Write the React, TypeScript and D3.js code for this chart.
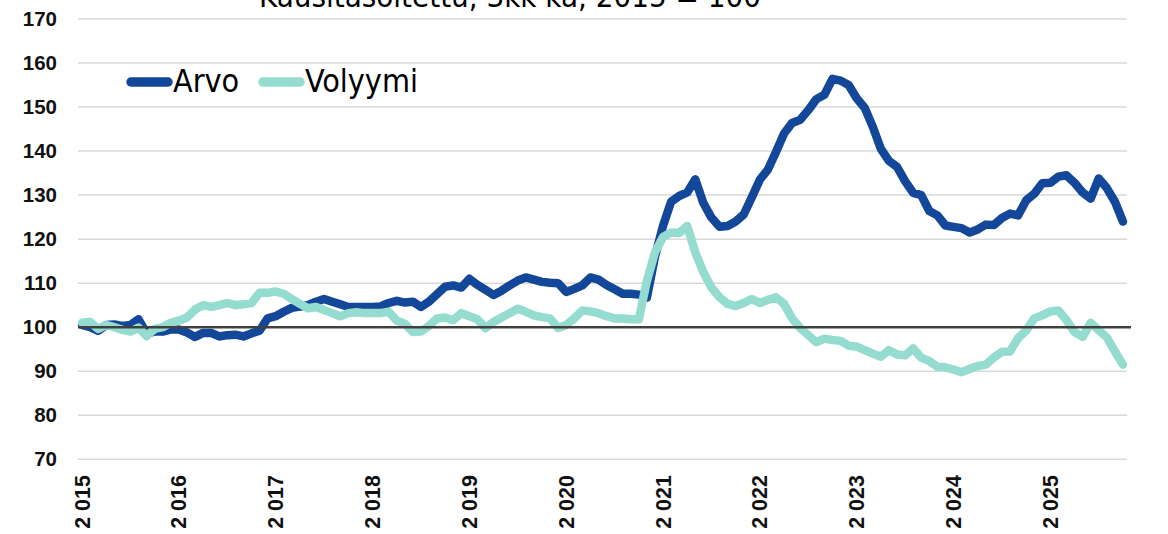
import React, { useRef, useEffect } from "react";
import * as d3 from "d3";

// kuukausisarjat 1/2015 - 10/2025, 2015 = 100
const arvo: number[] = [
  100.5, 100, 99.2, 100.5, 100.6, 100.3, 100.5, 101.8, 98.6, 99, 99, 99.5,
  99.5, 98.8, 97.8, 98.7, 98.7, 97.9, 98.2, 98.3, 97.9, 98.6, 99.2, 102,
  102.5, 103.5, 104.4, 104.7, 105, 105.8, 106.4, 105.8, 105.2, 104.6, 104.6, 104.6,
  104.6, 104.7, 105.5, 106, 105.6, 105.8, 104.6, 105.8, 107.5, 109.2, 109.5, 109,
  111, 109.6, 108.5, 107.3, 108.3, 109.5, 110.6, 111.3, 110.8, 110.3, 110.1, 110,
  108, 108.7, 109.5, 111.3, 110.8, 109.6, 108.6, 107.6, 107.6, 107.4, 106.7, 116,
  123, 128.5, 129.8, 130.6, 133.6, 128.2, 124.9, 122.8, 123, 124, 125.6, 129.5,
  133.5, 135.8, 139.8, 144, 146.4, 147.1, 149.3, 151.8, 152.8, 156.4, 156, 155,
  152, 149.8, 145.5, 140.5, 137.8, 136.4, 133.2, 130.5, 130, 126.4, 125.4, 123.1,
  122.8, 122.5, 121.5, 122.2, 123.3, 123.2, 124.8, 125.8, 125.4, 128.8, 130.3, 132.7,
  132.8, 134.2, 134.5, 132.8, 130.6, 129.2, 133.8, 131.6, 128.5, 124,
];

const volyymi: number[] = [
  101, 101.2, 99.6, 100.5, 100, 99.4, 99, 99.9, 98, 99.6, 100, 101,
  101.5, 102.2, 104, 105, 104.6, 105, 105.5, 105, 105.2, 105.5, 107.8, 107.8,
  108.1, 107.6, 106.4, 105.3, 104.3, 104.6, 103.9, 103.2, 102.5, 103.2, 103.4, 103.2,
  103.2, 103.2, 103.5, 101.5, 100.8, 98.9, 99, 100.3, 102, 102.2, 101.6, 103.2,
  102.5, 101.8, 99.8, 101.2, 102.2, 103.2, 104.2, 103.5, 102.7, 102.3, 102, 99.8,
  100.5, 102, 103.8, 103.6, 103.2, 102.5, 102, 102, 101.8, 101.8, 110.5, 117,
  120.5, 121.5, 121.4, 123, 117, 112.5, 109, 106.8, 105.3, 104.8, 105.5, 106.4,
  105.5, 106.2, 106.8, 105.3, 102, 99.8, 98.2, 96.6, 97.4, 97.1, 96.9, 95.8,
  95.6, 94.8, 94, 93.3, 94.8, 93.8, 93.6, 95.2, 93.1, 92.3, 91, 90.9,
  90.4, 89.8, 90.5, 91.2, 91.5, 93.1, 94.4, 94.5, 97.5, 99.2, 102, 102.7,
  103.6, 103.8, 101.6, 98.9, 97.8, 101, 99.3, 97.7, 94.5, 91.5,
];

const years: number[] = [2015, 2016, 2017, 2018, 2019, 2020, 2021, 2022, 2023, 2024, 2025];
const yTicks: number[] = [70, 80, 90, 100, 110, 120, 130, 140, 150, 160, 170];
const seriesNames = ["Arvo", "Volyymi"];
const title = "Kausitasoitettu, 3kk ka, 2015 = 100";

const COLORS = ["#13479a", "#93dccf"];

const App: React.FC = () => {
  const svgRef = useRef<SVGSVGElement | null>(null);

  useEffect(() => {
    const width = 1168;
    const height = 534;
    const left = 78;
    const right = 1127;

    const svg = d3.select(svgRef.current);
    svg.selectAll("*").remove();

    const idx = d3.range(arvo.length);
    const x = d3.scaleBand<number>().domain(idx).range([left, right]);
    const xc = (i: number) => (x(i) as number) + x.bandwidth() / 2;
    const y = d3.scaleLinear().domain([70, 170]).range([459.3, 19]);

    // otsikko (leikkautuu yläreunasta kuten alkuperäisessä)
    svg.append("text")
      .attr("x", 510)
      .attr("y", 7)
      .attr("text-anchor", "middle")
      .style("font-family", "'DejaVu Sans Condensed', 'DejaVu Sans', sans-serif")
      .style("font-stretch", "condensed")
      .style("font-size", "31px")
      .attr("fill", "#000")
      .text(title);

    // vaakaviivat
    svg.append("g")
      .selectAll("line")
      .data(yTicks.filter((t) => t !== 100))
      .join("line")
      .attr("x1", left)
      .attr("x2", right)
      .attr("y1", (d) => y(d))
      .attr("y2", (d) => y(d))
      .attr("stroke", "#d9d9d9")
      .attr("stroke-width", 1.5);

    // y-akselin tekstit
    svg.append("g")
      .selectAll("text")
      .data(yTicks)
      .join("text")
      .attr("x", 57)
      .attr("y", (d) => y(d))
      .attr("dy", "0.33em")
      .attr("text-anchor", "end")
      .style("font-family", "'Liberation Sans', Arial, sans-serif")
      .style("font-weight", "bold")
      .style("font-size", "20.5px")
      .attr("fill", "#111")
      .text((d) => d);

    // x-akselin vuodet
    svg.append("g")
      .selectAll("text")
      .data(years)
      .join("text")
      .attr("transform", (d) => `translate(${xc((d - years[0]) * 12)},475) rotate(-90)`)
      .attr("dy", "0.35em")
      .attr("text-anchor", "end")
      .style("font-family", "'Liberation Sans', Arial, sans-serif")
      .style("font-weight", "bold")
      .style("font-size", "21.5px")
      .attr("fill", "#111")
      .text((d) => `${String(d).slice(0, 1)} ${String(d).slice(1)}`);

    const line = d3.line<number>()
      .x((_, i) => xc(i))
      .y((d) => y(d));

    [arvo, volyymi].forEach((s, k) => {
      svg.append("path")
        .datum(s)
        .attr("d", line)
        .attr("fill", "none")
        .attr("stroke", COLORS[k])
        .attr("stroke-width", 8.5)
        .attr("stroke-linejoin", "round")
        .attr("stroke-linecap", "round");
    });

    // 100-taso
    svg.append("line")
      .attr("x1", left)
      .attr("x2", 1131)
      .attr("y1", y(100))
      .attr("y2", y(100))
      .attr("stroke", "#404040")
      .attr("stroke-width", 2.5);

    // selite
    const legendX = [131, 263];
    const textX = [173, 305];
    seriesNames.forEach((name, k) => {
      svg.append("line")
        .attr("x1", legendX[k])
        .attr("x2", legendX[k] + 37)
        .attr("y1", 82)
        .attr("y2", 82)
        .attr("stroke", COLORS[k])
        .attr("stroke-width", 9.5)
        .attr("stroke-linecap", "round");
      svg.append("text")
        .attr("x", textX[k])
        .attr("y", 92)
        .style("font-family", "'DejaVu Sans Condensed', 'DejaVu Sans', sans-serif")
        .style("font-stretch", "condensed")
        .style("font-size", "32px")
        .attr("fill", "#000")
        .text(name);
    });

    svg.attr("viewBox", `0 0 ${width} ${height}`);
  }, []);

  return (
    <svg
      ref={svgRef}
      width={1168}
      height={534}
      style={{ position: "absolute", left: 0, top: 0, background: "#fff" }}
    />
  );
};

export default App;
